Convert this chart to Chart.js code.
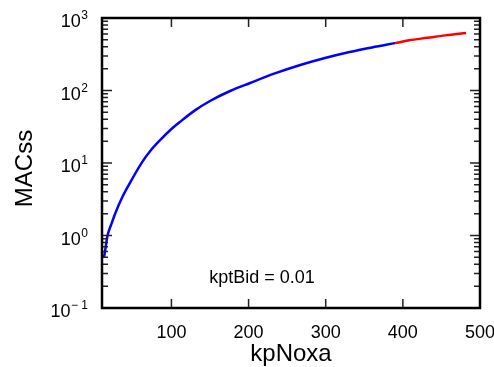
<!DOCTYPE html>
<html>
<head>
<meta charset="utf-8">
<script src="https://cdn.jsdelivr.net/npm/chart.js@4"></script>
<style>
  body { margin: 0; background: #fff; }
  #wrap { width: 494px; height: 367px; }
</style>
</head>
<body>
<div id="wrap"><canvas id="macChart" width="494" height="367"></canvas></div>
<script>
// values
const xTicks = [100, 200, 300, 400, 500];
const blueX = [12.6, 14, 17, 22, 27, 37, 49, 61, 72, 85, 100, 111, 130, 150, 176, 202, 234, 267, 299, 331, 360, 390];
const blueY = [0.5, 0.61, 0.98, 1.42, 2.0, 3.5, 6.0, 9.9, 14.4, 20.5, 29.4, 36.8, 52.8, 71.6, 98.4, 127, 172, 225, 281, 340, 393, 450];
const redX = [390, 408, 432, 455, 482];
const redY = [450, 492, 533, 576, 620];
const yDecades = [0.1, 1, 10, 100, 1000];
const yExp = ['\u2212 1', '0', '1', '2', '3'];
const annotText = 'kptBid = 0.01';
const annotX = 149, annotY = 0.218;

const FONT = '"Liberation Sans", Arial, Helvetica, sans-serif';

function toPoints(xs, ys) {
  return xs.map((x, i) => ({ x: x, y: ys[i] }));
}

// ticks inside the frame, frame, y labels with exponents, titles, note
const decorations = {
  id: 'decorations',
  afterDatasetsDraw(chart) {
    const { ctx, chartArea: a, scales: { x, y } } = chart;
    ctx.save();

    ctx.strokeStyle = '#222';
    ctx.lineWidth = 1.5;
    ctx.beginPath();
    x.ticks.forEach(t => {
      const px = x.getPixelForValue(t.value);
      if (px >= a.right - 2) return;
      ctx.moveTo(px, a.bottom); ctx.lineTo(px, a.bottom - 9);
      ctx.moveTo(px, a.top); ctx.lineTo(px, a.top + 9);
    });
    y.ticks.forEach(t => {
      const py = y.getPixelForValue(t.value);
      const len = t.major ? 10 : 6;
      ctx.moveTo(a.left, py); ctx.lineTo(a.left + len, py);
      ctx.moveTo(a.right, py); ctx.lineTo(a.right - len, py);
    });
    ctx.stroke();

    ctx.strokeStyle = '#000';
    ctx.lineWidth = 2.5;
    ctx.strokeRect(a.left, a.top, a.width, a.height);

    // y tick labels: 10 with superscript exponent
    ctx.fillStyle = '#000';
    ctx.textBaseline = 'alphabetic';
    ctx.textAlign = 'right';
    const labelRight = a.left - 14;
    yDecades.forEach((v, i) => {
      const py = y.getPixelForValue(v);
      ctx.font = '12px ' + FONT;
      const ew = ctx.measureText(yExp[i]).width;
      ctx.fillText(yExp[i], labelRight, py + 1);
      ctx.font = '18px ' + FONT;
      ctx.fillText('10', labelRight - ew - 0.5, py + 9);
    });

    // axis titles
    ctx.font = '24px ' + FONT;
    ctx.textAlign = 'center';
    ctx.fillText('kpNoxa', (a.left + a.right) / 2, 361);
    ctx.save();
    ctx.translate(32, 168.5);
    ctx.rotate(-Math.PI / 2);
    ctx.fillText('MACss', 0, 0);
    ctx.restore();

    // annotation
    ctx.font = '18px ' + FONT;
    ctx.textAlign = 'left';
    ctx.fillText(annotText, x.getPixelForValue(annotX), y.getPixelForValue(annotY));

    ctx.restore();
  }
};

new Chart(document.getElementById('macChart'), {
  type: 'line',
  data: {
    datasets: [
      {
        data: toPoints(blueX, blueY),
        borderColor: '#0000ff',
        borderWidth: 2.5,
        pointRadius: 0,
        cubicInterpolationMode: 'monotone',
        fill: false
      },
      {
        data: toPoints(redX, redY),
        borderColor: '#ff0000',
        borderWidth: 2.5,
        pointRadius: 0,
        cubicInterpolationMode: 'monotone',
        fill: false
      }
    ]
  },
  options: {
    responsive: false,
    animation: false,
    events: [],
    layout: { padding: { top: 18, right: 14, left: 0, bottom: 0 } },
    plugins: {
      legend: { display: false },
      tooltip: { enabled: false }
    },
    scales: {
      x: {
        type: 'linear',
        min: 10,
        max: 500,
        afterBuildTicks: s => { s.ticks = xTicks.map(v => ({ value: v })); },
        afterFit: s => { s.height = 59; s.paddingLeft = 0; s.paddingRight = 0; },
        ticks: {
          autoSkip: false,
          maxRotation: 0,
          padding: 6,
          color: '#000',
          font: { family: FONT, size: 18 }
        },
        grid: { display: false },
        border: { display: false }
      },
      y: {
        type: 'logarithmic',
        min: 0.1,
        max: 1000,
        afterBuildTicks: s => {
          const t = [];
          for (let d = -1; d <= 2; d++) {
            for (let m = 1; m <= 9; m++) t.push({ value: m * Math.pow(10, d), major: m === 1 });
          }
          t.push({ value: 1000, major: true });
          s.ticks = t;
        },
        afterFit: s => { s.width = 102; },
        ticks: { display: false, autoSkip: false },
        grid: { display: false },
        border: { display: false }
      }
    }
  },
  plugins: [decorations]
});
</script>
</body>
</html>
